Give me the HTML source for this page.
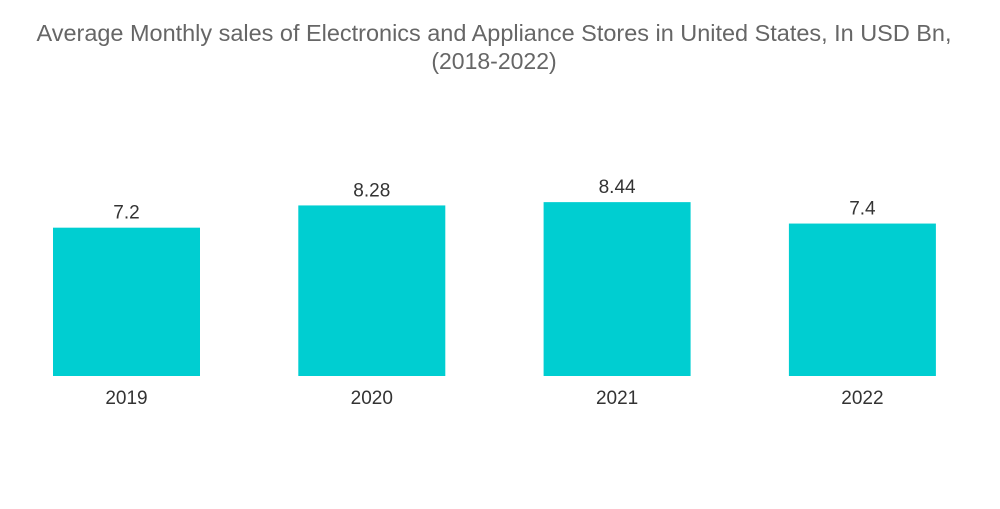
<!DOCTYPE html>
<html><head><meta charset="utf-8"><style>
body{margin:0;background:#fff;width:1000px;height:504px;overflow:hidden;font-family:"Liberation Sans",sans-serif}
</style></head><body>
<svg width="1000" height="504">
<text x="494" y="41" text-anchor="middle" font-size="23" textLength="915" lengthAdjust="spacingAndGlyphs" fill="#666">Average Monthly sales of Electronics and Appliance Stores in United States, In USD Bn,</text>
<text x="494" y="69" text-anchor="middle" font-size="23" fill="#666">(2018-2022)</text>
<g id="bars"></g>
</svg>
<script>
const categories=["2019","2020","2021","2022"];
const values=[7.2,8.28,8.44,7.4];
const labels=["7.2","8.28","8.44","7.4"];
const baseY=376, pxPerUnit=20.6, x0=53, step=245.3, bw=147;
function yScale(v){return baseY-v*pxPerUnit;}
function xScale(i){return x0+i*step;}
const g=document.getElementById('bars');
const ns="http://www.w3.org/2000/svg";
categories.forEach((c,i)=>{
  const r=document.createElementNS(ns,'rect');
  
  
  r.setAttribute('x',xScale(i));r.setAttribute('y',yScale(values[i]));
  r.setAttribute('width',bw);r.setAttribute('height',baseY-yScale(values[i]));
  r.setAttribute('fill','#00ced1');g.appendChild(r);
  const t=document.createElementNS(ns,'text');
  
  
  t.setAttribute('x',xScale(i)+bw/2);t.setAttribute('y',yScale(values[i])-9);
  t.setAttribute('text-anchor','middle');t.setAttribute('font-size','19');t.setAttribute('fill','#333');
  t.textContent=labels[i];g.appendChild(t);
  const a=document.createElementNS(ns,'text');
  
  
  a.setAttribute('x',xScale(i)+bw/2);a.setAttribute('y',404);
  a.setAttribute('text-anchor','middle');a.setAttribute('font-size','19');a.setAttribute('fill','#333');
  a.textContent=c;g.appendChild(a);
});
</script>
</body></html>
